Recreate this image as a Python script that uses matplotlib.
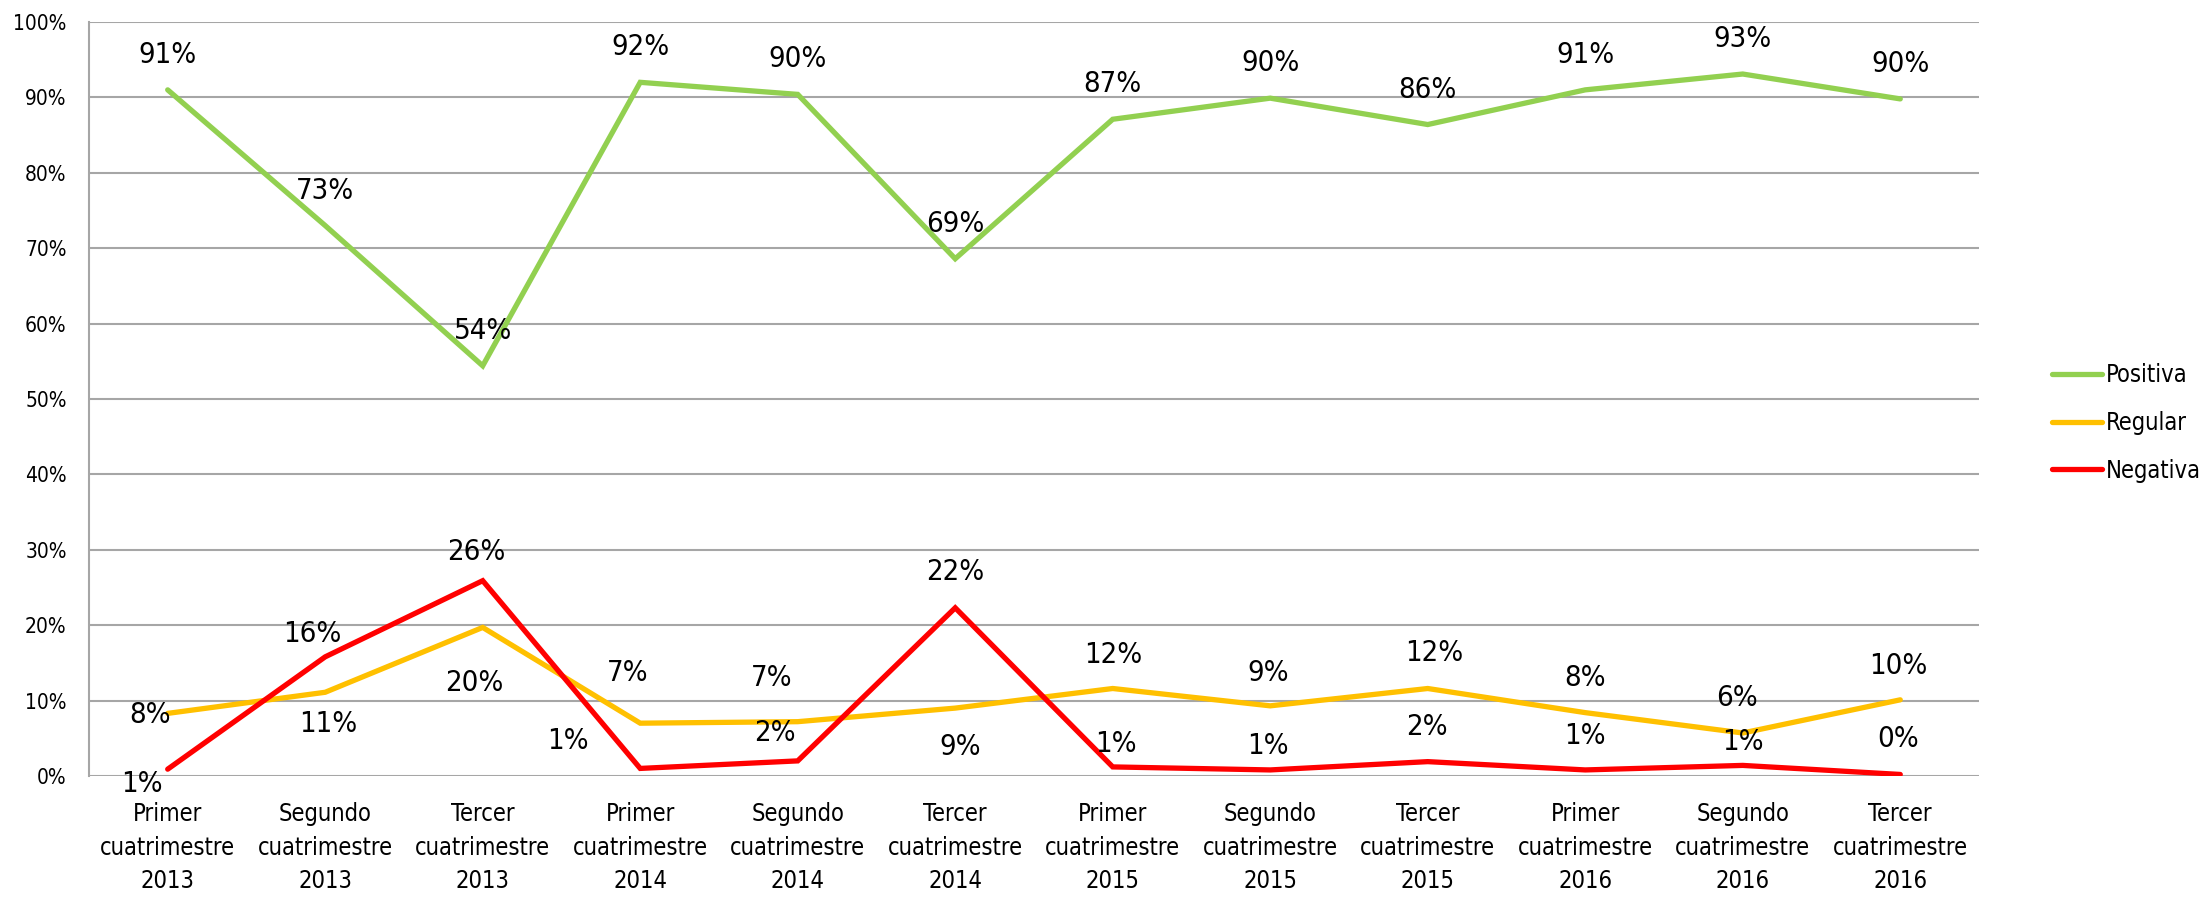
import matplotlib
matplotlib.use("Agg")
import matplotlib.pyplot as plt
import matplotlib.font_manager as fm

# pick a narrow sans font if one is installed
_entries = fm.fontManager.ttflist
_names = {f.name for f in _entries}
font_family = 'Lato'
font_stretch = 'normal'
if 'Liberation Sans Narrow' in _names:
    font_family = 'Liberation Sans Narrow'
elif any(f.name == 'DejaVu Sans' and 'condensed' in str(f.stretch).lower() for f in _entries):
    font_family = 'DejaVu Sans'
    font_stretch = 'condensed'
else:
    for cand in ['Roboto Condensed', 'Open Sans Condensed', 'Noto Sans Condensed']:
        if cand in _names:
            font_family = cand
            break
plt.rcParams['font.family'] = [font_family, 'DejaVu Sans']
plt.rcParams['font.stretch'] = font_stretch

categories = [
    "Primer\ncuatrimestre\n2013", "Segundo\ncuatrimestre\n2013", "Tercer\ncuatrimestre\n2013",
    "Primer\ncuatrimestre\n2014", "Segundo\ncuatrimestre\n2014", "Tercer\ncuatrimestre\n2014",
    "Primer\ncuatrimestre\n2015", "Segundo\ncuatrimestre\n2015", "Tercer\ncuatrimestre\n2015",
    "Primer\ncuatrimestre\n2016", "Segundo\ncuatrimestre\n2016", "Tercer\ncuatrimestre\n2016",
]
positiva = [0.910, 0.730, 0.544, 0.920, 0.904, 0.686, 0.871, 0.899, 0.864, 0.910, 0.931, 0.898]
regular = [0.083, 0.111, 0.197, 0.070, 0.072, 0.090, 0.116, 0.093, 0.116, 0.084, 0.057, 0.101]
negativa = [0.009, 0.158, 0.259, 0.010, 0.020, 0.223, 0.012, 0.008, 0.019, 0.008, 0.014, 0.002]
series_names = ["Positiva", "Regular", "Negativa"]
y_ticks = [0.0, 0.1, 0.2, 0.3, 0.4, 0.5, 0.6, 0.7, 0.8, 0.9, 1.0]

colors = ["#92D050", "#FFC000", "#FF0000"]

# data-label offsets from their point, in pixels (dx, dy)
off_pos = [(0, 38)] * 12
off_reg = [(-18, 1), (3, -29), (-8, -53), (-13, 53), (-26, 47), (5, -36),
           (0, 37), (-2, 36), (6, 39), (0, 38), (-6, 38), (-2, 37)]
off_neg = [(-26, -12), (-13, 26), (-6, 32), (-72, 30), (-23, 31), (0, 39),
           (3, 26), (-2, 27), (-1, 38), (0, 37), (0, 26), (-2, 38)]

fig = plt.figure(figsize=(22.07, 8.98), dpi=100)
ax = fig.add_axes([0.0403, 0.1359, 0.8564, 0.8396])

x = list(range(len(categories)))
for vals, name, col, offs in zip([positiva, regular, negativa], series_names, colors,
                                 [off_pos, off_reg, off_neg]):
    ax.plot(x, vals, color=col, lw=3.8, label=name, solid_joinstyle='miter',
            solid_capstyle='round', zorder=3)
    for xi, v, (dx, dy) in zip(x, vals, offs):
        ax.annotate(f"{round(v * 100)}%", (xi, v), xytext=(dx, dy - 3),
                    textcoords='offset pixels', ha='center', va='center',
                    fontsize=21, color='black', zorder=4)

ax.set_xlim(-0.5, len(categories) - 0.5)
ax.set_ylim(0, 1)
ax.set_yticks(y_ticks)
ax.set_yticklabels([f"{int(round(t * 100))}%" for t in y_ticks], fontsize=15)
ax.set_xticks(x)
ax.set_xticklabels(categories, fontsize=17, linespacing=1.5)
ax.tick_params(axis='both', length=0, colors='black')
ax.tick_params(axis='y', pad=16)
ax.tick_params(axis='x', pad=19)
ax.grid(axis='y', color='#A6A6A6', lw=1.5)
ax.set_axisbelow(True)
for s in ['top', 'right', 'bottom']:
    ax.spines[s].set_visible(False)
ax.spines['left'].set_color('#A6A6A6')
ax.spines['left'].set_linewidth(1.5)

leg = fig.legend(loc='center left', bbox_to_anchor=(0.9298, 0.529), frameon=False,
                 fontsize=17, handlelength=2.1, handletextpad=0.2, labelspacing=1.0,
                 borderpad=0, borderaxespad=0)

fig.savefig("out.png", dpi=100)
